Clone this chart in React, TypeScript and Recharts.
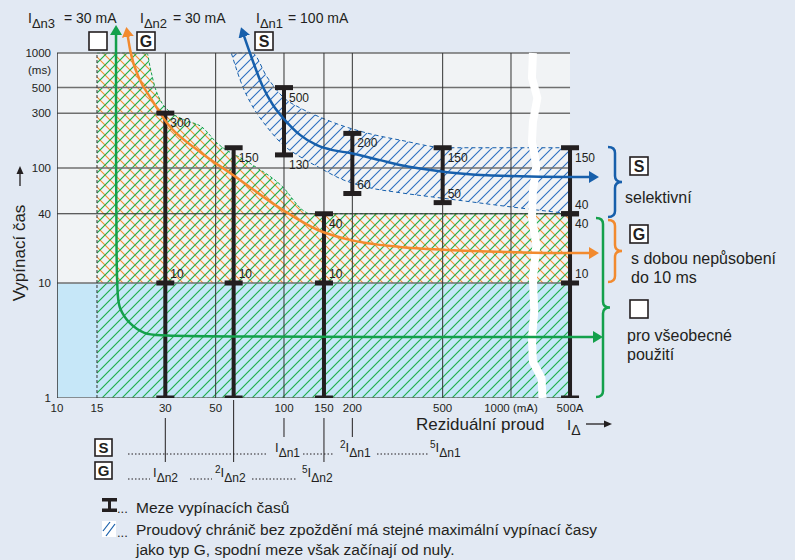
import React from "react";
import { ComposedChart, Area, Line, XAxis, YAxis } from "recharts";

// axes (mA on x, ms on y, both log); 500 A sits right after the axis break
const I_500A = 1820;
const X_TICKS = [10, 15, 30, 50, 100, 150, 200, 500, 1000, I_500A];
const Y_TICKS = [1, 10, 40, 100, 300, 500, 1000];
const GRID_X = [10, 15, 30, 50, 100, 150, 200, 500, 1000];
const GRID_Y = [1, 10, 40, 100, 300, 500, 1000];

// upper limit of the "G" / general purpose region
const G_X = [15, 24.9, 25.7, 27.0, 29.0, 30.8, 36.6, 43.5, 50.7, 70.8, 99, 121, 130, I_500A];
const G_T = [1000, 1000, 755, 506, 367, 319, 261, 227, 165, 110, 68, 43, 40, 40];

// selective "S" band
const S_X = [58.6, 65.9, 72.3, 84.2, 99, 118, 144, 182, 233, 324, 523, 990, I_500A];
const S_LOW = [1000, 506, 350, 227, 159, 125, 100, 79, 68, 61, 54, 46, 40];
const S_HIGH = [1000, 1000, 1000, 618, 414, 332, 277, 232, 201, 175, 150, 150, 150];

// characteristic curves (arrows)
const BLUE_X = [65.3, 70.8, 80.8, 89.4, 101, 117.6, 139.6, 164, 195, 265, 324, 523, 990, I_500A, 2368];
const BLUE_T = [1585, 1000, 506, 353, 261, 194, 158, 143, 135, 117, 106, 92, 85, 83.5, 83.5];
const ORANGE_X = [20.3, 21.0, 23.2, 25.7, 30.5, 42.7, 59.6, 99, 141, 195, 324, 523, 990, I_500A, 2368];
const ORANGE_T = [1585, 1062, 582, 414, 246, 138, 87, 43, 28.9, 23.7, 20.6, 19.4, 18.6, 18.2, 18.2];
const GREEN_X = [18.2, 18.2, 18.8, 20.8, 24.2, 28.7, 2466];
const GREEN_T = [1649, 8.35, 5.94, 4.4, 3.6, 3.39, 3.39];

// axis break (white zig-zag)
const BREAK_X = [1249, 1237, 1307, 1249, 1237, 1294, 1249, 1237, 1294, 1249, 1266, 1237, 1249, 1363, 1377];
const BREAK_T = [1000, 606, 406, 251, 168, 106, 62, 36.7, 21.4, 11, 5.6, 3.3, 2.06, 1.49, 1];

// limit bars: [current, time, label, label above/below]
type Cap = [number, number, string?, string?];
const BARS: Cap[][] = [
  [[30, 300, "300", "b"], [30, 10, "10", "a"], [30, 1]],
  [[60, 150, "150", "b"], [60, 10, "10", "a"], [60, 1]],
  [[150, 40, "40", "b"], [150, 10, "10", "a"], [150, 1]],
  [[100, 500, "500", "b"], [100, 130, "130", "b"]],
  [[200, 200, "200", "b"], [200, 60, "60", "a"]],
  [[500, 150, "150", "b"], [500, 50, "50", "a"]],
  [[I_500A, 150, "150", "b"], [I_500A, 40, "40", "a"], [I_500A, 40, "40", "b"], [I_500A, 10, "10", "a"], [I_500A, 1]],
];

const FONT = "'Liberation Sans', Arial, sans-serif";
const INK = "#231f20";
const GREEN = "#14a04b";
const ORANGE = "#f28a2e";
const BLUE = "#175fab";

const pts = (xs: number[], ts: number[]) => xs.map((x, i) => ({ x, y: ts[i] }));
const band = (xs: number[], lo: number[], hi: number[]) => xs.map((x, i) => ({ x, r: [lo[i], hi[i]] }));

// same mapping as the x axis, for the helper lines below the chart
const xPx = (v: number) => 57 + (553 * Math.log10(v / 10)) / Math.log10(273);

const XTick = (p: any) => {
  const v = p.payload.value;
  const label = v === I_500A ? "500A" : v === 1000 ? "1000 (mA)" : String(v);
  return (
    <text x={p.x} y={412} textAnchor="middle" fontSize={11.5} fill={INK} fontFamily={FONT}>
      {label}
    </text>
  );
};

const YTick = (p: any) => {
  const v = p.payload.value;
  return (
    <g>
      <text x={51} y={p.y + 4} textAnchor="end" fontSize={11.5} fill={INK} fontFamily={FONT}>
        {v}
      </text>
      {v === 1000 && (
        <text x={51} y={p.y + 21} textAnchor="end" fontSize={11.5} fill={INK} fontFamily={FONT}>
          (ms)
        </text>
      )}
    </g>
  );
};

const renderCap = (p: any) => {
  const { cx, cy, payload, index } = p;
  return (
    <g key={`c${index}-${payload.lbl ?? ""}${payload.pos ?? ""}`}>
      <rect x={cx - 9} y={cy - 2.5} width={18} height={5} fill={INK} />
      {payload.lbl && (
        <text x={cx + 5} y={payload.pos === "a" ? cy - 5 : cy + 14} fontSize={12} fill={INK} fontFamily={FONT}>
          {payload.lbl}
        </text>
      )}
    </g>
  );
};

const Box = ({ x, y, s = 18, t = "" }: { x: number; y: number; s?: number; t?: string }) => (
  <g>
    <rect x={x} y={y} width={s} height={s} fill="#fff" stroke={INK} strokeWidth={1.6} />
    {t && (
      <text x={x + s / 2} y={y + s - 3.5} textAnchor="middle" fontSize={s - 2} fontWeight="bold" fill={INK}>
        {t}
      </text>
    )}
  </g>
);

const Idn = ({ x, y, sub, pre, fs = 13 }: { x: number; y: number; sub: string; pre?: string; fs?: number }) => (
  <text x={x} y={y} fontSize={fs} fill={INK}>
    {pre && (
      <tspan fontSize={fs - 3} dy={-4}>
        {pre}
      </tspan>
    )}
    <tspan dy={pre ? 4 : 0}>I</tspan>
    <tspan fontSize={fs - 1} dy={5}>
      {sub}
    </tspan>
  </text>
);

const brace = (x: number, y0: number, y1: number, w: number) => {
  const ym = (y0 + y1) / 2;
  const xm = x + w / 2;
  const r = 6;
  return `M${x},${y0} Q${xm},${y0} ${xm},${y0 + r} L${xm},${ym - r} Q${xm},${ym} ${x + w},${ym} Q${xm},${ym} ${xm},${ym + r} L${xm},${y1 - r} Q${xm},${y1} ${x},${y1}`;
};

const Dots = ({ x1, x2, y }: { x1: number; x2: number; y: number }) => (
  <line x1={x1} x2={x2} y1={y} y2={y} stroke={INK} strokeWidth={1} strokeDasharray="1.5 2" />
);

const arrowMarker = (id: string, color: string) => (
  <marker id={id} viewBox="0 0 10 12" refX={7} refY={6} markerWidth={4} markerHeight={4.8} orient="auto-start-reverse" markerUnits="strokeWidth">
    <path d="M0,0 L10,6 L0,12 z" fill={color} />
  </marker>
);

export default function App() {
  return (
    <div style={{ position: "absolute", left: 0, top: 0, width: 795, height: 560, background: "#e2e9f3", fontFamily: FONT }}>
      <ComposedChart width={795} height={560} margin={{ top: 22, right: 185, bottom: 132, left: 7 }}>
        <defs>
          <pattern id="hG" patternUnits="userSpaceOnUse" width={10} height={10}>
            <path d="M-2,2 L2,-2 M0,10 L10,0 M8,12 L12,8" stroke="#1fb04c" strokeWidth={1.2} />
          </pattern>
          <pattern id="hO" patternUnits="userSpaceOnUse" width={10} height={10}>
            <path d="M-2,8 L2,12 M0,0 L10,10 M8,-2 L12,2" stroke="#f5922f" strokeWidth={1.1} />
          </pattern>
          <pattern id="hB" patternUnits="userSpaceOnUse" width={10} height={10}>
            <path d="M-2,2 L2,-2 M0,10 L10,0 M8,12 L12,8" stroke="#2c6fbf" strokeWidth={1.1} />
          </pattern>
          {arrowMarker("aG", GREEN)}
          {arrowMarker("aO", ORANGE)}
          {arrowMarker("aB", BLUE)}
        </defs>
        <XAxis dataKey="x" type="number" scale="log" domain={[10, 2730]} allowDataOverflow ticks={X_TICKS} interval={0} tick={XTick} axisLine={false} tickLine={false} height={30} />
        <YAxis type="number" scale="log" domain={[1, 1860]} allowDataOverflow ticks={Y_TICKS} interval={0} tick={YTick} axisLine={false} tickLine={false} width={50} />

        <Area data={band([10, I_500A], [1, 1], [1000, 1000])} dataKey="r" type="linear" stroke="none" fill="#f1f3f5" fillOpacity={1} dot={false} activeDot={false} isAnimationActive={false} />
        <Area data={band([10, I_500A], [1, 1], [10, 10])} dataKey="r" type="linear" stroke="none" fill="#c6e7f8" fillOpacity={1} dot={false} activeDot={false} isAnimationActive={false} />
        <Area data={band(S_X, S_LOW, S_HIGH)} dataKey="r" type="monotone" stroke={BLUE} strokeWidth={1} strokeDasharray="4 3" fill="url(#hB)" fillOpacity={1} dot={false} activeDot={false} isAnimationActive={false} />
        <Area data={band(G_X, G_X.map(() => 10), G_T)} dataKey="r" type="monotone" stroke="none" fill="url(#hO)" fillOpacity={1} dot={false} activeDot={false} isAnimationActive={false} />
        <Area data={band(G_X, G_X.map(() => 1), G_T)} dataKey="r" type="monotone" stroke={GREEN} strokeWidth={1} strokeDasharray="3 2" fill="url(#hG)" fillOpacity={1} dot={false} activeDot={false} isAnimationActive={false} />

        {GRID_Y.map((t) => (
          <Line key={`gy${t}`} data={pts([10, I_500A], [t, t])} dataKey="y" type="linear" stroke={t === 40 ? "#2a2a2a" : "#6f6f6f"} strokeWidth={t === 40 ? 1 : 1.5} dot={false} activeDot={false} isAnimationActive={false} />
        ))}
        {GRID_X.map((v) => (
          <Line key={`gx${v}`} data={pts([v, v], [1, 1000])} dataKey="y" type="linear" stroke="#333" strokeWidth={v === 10 ? 1.5 : 1} strokeDasharray={v === 15 ? "3 2" : undefined} dot={false} activeDot={false} isAnimationActive={false} />
        ))}

        <Line data={pts(BREAK_X, BREAK_T)} dataKey="y" type="linear" stroke="#fff" strokeWidth={8} strokeLinejoin="round" dot={false} activeDot={false} isAnimationActive={false} />

        {BARS.map((b, i) => (
          <Line
            key={`bar${i}`}
            data={b.map(([x, y, lbl, pos]) => ({ x, y, lbl, pos }))}
            dataKey="y"
            type="linear"
            stroke={INK}
            strokeWidth={4}
            dot={renderCap}
            activeDot={false}
            isAnimationActive={false}
          />
        ))}

        <Line data={pts(BLUE_X, BLUE_T)} dataKey="y" type="monotone" stroke={BLUE} strokeWidth={2.5} markerStart="url(#aB)" markerEnd="url(#aB)" dot={false} activeDot={false} isAnimationActive={false} />
        <Line data={pts(ORANGE_X, ORANGE_T)} dataKey="y" type="monotone" stroke={ORANGE} strokeWidth={2.5} markerStart="url(#aO)" markerEnd="url(#aO)" dot={false} activeDot={false} isAnimationActive={false} />
        <Line data={pts(GREEN_X, GREEN_T)} dataKey="y" type="basis" stroke={GREEN} strokeWidth={2.5} markerStart="url(#aG)" markerEnd="url(#aG)" dot={false} activeDot={false} isAnimationActive={false} />
      </ComposedChart>

      <svg width={795} height={560} style={{ position: "absolute", left: 0, top: 0, pointerEvents: "none" }} fontFamily={FONT}>
        {/* rated currents on top */}
        <Idn x={28} y={23} sub="Δn3" fs={14} />
        <text x={64} y={23} fontSize={14} fill={INK}>= 30 mA</text>
        <Idn x={140} y={23} sub="Δn2" fs={14} />
        <text x={173} y={23} fontSize={14} fill={INK}>= 30 mA</text>
        <Idn x={256} y={23} sub="Δn1" fs={14} />
        <text x={288} y={23} fontSize={14} fill={INK}>= 100 mA</text>
        <Box x={89} y={32} />
        <Box x={137} y={32} t="G" />
        <Box x={255} y={32} t="S" />

        {/* axis titles */}
        <text transform="translate(25,253) rotate(-90)" textAnchor="middle" fontSize={17} fill={INK}>Vypínací čas</text>
        <line x1={20} x2={20} y1={186} y2={172} stroke={INK} strokeWidth={1.3} />
        <path d="M16.5,174 L20,166 L23.5,174 z" fill={INK} />
        <text x={416} y={430} fontSize={17} fill={INK}>Reziduální proud</text>
        <Idn x={567} y={430} sub="Δ" fs={15} />
        <line x1={586} x2={606} y1={424} y2={424} stroke={INK} strokeWidth={1.3} />
        <path d="M604,420.5 L612,424 L604,427.5 z" fill={INK} />

        {/* right side legend */}
        <path d={brace(608, 147, 217, 14)} fill="none" stroke={BLUE} strokeWidth={2.5} />
        <path d={brace(608, 220, 282, 14)} fill="none" stroke={ORANGE} strokeWidth={2.5} />
        <path d={brace(596, 218, 397, 14)} fill="none" stroke={GREEN} strokeWidth={2.5} />
        <Box x={630} y={157} t="S" />
        <text x={625} y={203} fontSize={16} fill={INK}>selektivní</text>
        <Box x={630} y={225} t="G" />
        <text x={631} y={264} fontSize={16} fill={INK}>s dobou nepůsobení</text>
        <text x={631} y={283} fontSize={16} fill={INK}>do 10 ms</text>
        <Box x={630} y={300} />
        <text x={627} y={341} fontSize={16} fill={INK}>pro všeobecné</text>
        <text x={627} y={360} fontSize={16} fill={INK}>použití</text>

        {/* multiples of rated currents */}
        {[
          [30, 418, 462],
          [60, 400, 462],
          [100, 418, 437],
          [150, 418, 462],
          [200, 418, 437],
        ].map(([v, a, b]) => (
          <line key={v} x1={xPx(v)} x2={xPx(v)} y1={a} y2={b} stroke={INK} strokeWidth={1} />
        ))}
        <Box x={95} y={439} s={17} t="S" />
        <Dots x1={128} x2={268} y={454} />
        <Idn x={275} y={452} sub="Δn1" fs={13} />
        <Dots x1={303} x2={333} y={454} />
        <Idn x={340} y={452} sub="Δn1" pre="2" fs={13} />
        <Dots x1={377} x2={428} y={454} />
        <Idn x={430} y={452} sub="Δn1" pre="5" fs={13} />
        <Box x={95} y={462} s={17} t="G" />
        <Dots x1={128} x2={150} y={479} />
        <Idn x={153} y={477} sub="Δn2" fs={13} />
        <Dots x1={190} x2={212} y={479} />
        <Idn x={215} y={477} sub="Δn2" pre="2" fs={13} />
        <Dots x1={252} x2={297} y={479} />
        <Idn x={302} y={477} sub="Δn2" pre="5" fs={13} />

        {/* bottom legend */}
        <path d="M102,498 H117 V501.5 H111 V508.5 H117 V512 H102 V508.5 H108 V501.5 H102 z" fill={INK} />
        <text x={117} y={513} fontSize={13} fill={INK}>...</text>
        <text x={136} y={513} fontSize={15.5} fill={INK}>Meze vypínacích časů</text>
        <rect x={102} y={521} width={14} height={16} fill="#fff" />
        <line x1={103} y1={531} x2={110} y2={522} stroke={BLUE} strokeWidth={1.2} />
        <line x1={106} y1={536} x2={115} y2={524} stroke={BLUE} strokeWidth={1.2} />
        <text x={117} y={537} fontSize={13} fill={INK}>...</text>
        <text x={136} y={535} fontSize={15.5} fill={INK}>Proudový chránič bez zpoždění má stejné maximální vypínací časy</text>
        <text x={136} y={555} fontSize={15.5} fill={INK}>jako typ G, spodní meze však začínají od nuly.</text>
      </svg>
    </div>
  );
}
